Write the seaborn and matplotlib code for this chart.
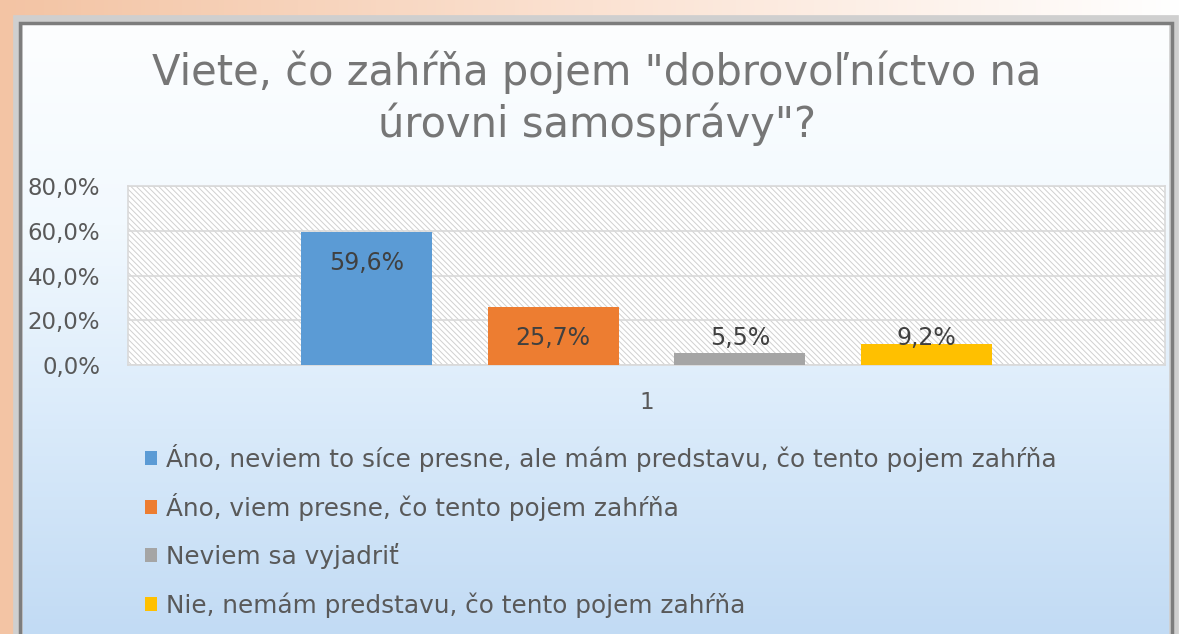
import numpy as np
import pandas as pd
import seaborn as sns
import matplotlib.pyplot as plt
from matplotlib.colors import LinearSegmentedColormap
from matplotlib.patches import Rectangle
from matplotlib.ticker import FuncFormatter

# data
title = 'Viete, čo zahŕňa pojem "dobrovoľníctvo na\núrovni samosprávy"?'
categories = [
    "Áno, neviem to síce presne, ale mám predstavu, čo tento pojem zahŕňa",
    "Áno, viem presne, čo tento pojem zahŕňa",
    "Neviem sa vyjadriť",
    "Nie, nemám predstavu, čo tento pojem zahŕňa",
]
values = [59.6, 25.7, 5.5, 9.2]
group = ["1", "1", "1", "1"]
colors = ["#5b9bd5", "#ed7d31", "#a5a5a5", "#ffc000"]
y_ticks = [0, 20, 40, 60, 80]

sns.set_theme(style="white")
plt.rcParams["font.family"] = ["DejaVu Sans"]
plt.rcParams["hatch.color"] = "#d0d0d0"
plt.rcParams["hatch.linewidth"] = 0.7

text_gray = "#595959"

fig = plt.figure(figsize=(11.86, 6.34), dpi=100)

# background: slide (peach -> white) and the chart area (white -> light blue)
bg = fig.add_axes([0, 0, 1, 1], zorder=-5)
bg.set_xlim(0, 1)
bg.set_ylim(0, 1)
bg.axis("off")
slide = LinearSegmentedColormap.from_list("slide", ["#f3c4a4", "#fbe2d2", "#ffffff"])
bg.imshow(np.linspace(0, 1, 256)[None, :], cmap=slide, extent=(0, 1, 0, 1),
          aspect="auto", interpolation="bicubic")
chart = LinearSegmentedColormap.from_list("chart", ["#c2dbf4", "#d9eafa", "#f2f9fe", "#fdfeff"])
x0, x1 = 18 / 1186, 1174 / 1186
y0, y1 = 0.0, 1 - 20 / 634
bg.imshow(np.linspace(0, 1, 256)[:, None], cmap=chart, origin="lower",
          extent=(x0, x1, y0, y1), aspect="auto", interpolation="bicubic")
bg.add_patch(Rectangle((x0, y0 - 0.02), x1 - x0, y1 - y0 + 0.02, fill=False,
                       edgecolor="#cfcfcf", lw=7))
bg.add_patch(Rectangle((x0 + 0.002, y0 - 0.02), x1 - x0 - 0.004, y1 - y0 + 0.016, fill=False,
                       edgecolor="#7d7d7d", lw=2.5))

fig.text(0.503, 0.845, title, ha="center", va="center", fontsize=30,
         color="#767676", linespacing=1.25)

df = pd.DataFrame({"skupina": group, "odpoved": categories, "podiel": values})

ax = fig.add_axes([128 / 1186, 1 - 365 / 634, (1165 - 128) / 1186, (365 - 186) / 634])
sns.barplot(data=df, x="skupina", y="podiel", hue="odpoved", hue_order=categories,
            palette=colors, width=0.72, gap=0.3, saturation=1, linewidth=0,
            ax=ax, zorder=3)

ax.set_ylim(0, 80)
ax.set_yticks(y_ticks)
ax.yaxis.set_major_formatter(FuncFormatter(lambda v, p: f"{v:.1f}%".replace(".", ",")))
ax.set_xlabel("")
ax.set_ylabel("")
ax.tick_params(axis="both", length=0, labelsize=16.5, colors=text_gray)
ax.tick_params(axis="x", pad=19)
ax.tick_params(axis="y", pad=20)

ax.patch.set_facecolor("white")
ax.patch.set_hatch("\\\\\\\\\\\\")
ax.patch.set_edgecolor("#d0d0d0")
ax.grid(axis="y", color="#d9d9d9", lw=1.2, zorder=1)
ax.set_axisbelow(True)
for s in ax.spines.values():
    s.set_color("#d9d9d9")
    s.set_linewidth(1.2)

# data labels: inside the top of tall bars, above short ones
for cont, v in zip(ax.containers, values):
    bar = cont.patches[0]
    xc = bar.get_x() + bar.get_width() / 2
    ax.text(xc, max(v - 13.8, 12), f"{v:.1f}%".replace(".", ","), ha="center",
            va="center", fontsize=17, color="#404040", zorder=5)

# legend: one entry per row so that the rows are evenly spaced
handles, labels = ax.get_legend_handles_labels()
ax.get_legend().remove()
for i, (h, lab) in enumerate(zip(handles, labels)):
    yrow = 1 - (458 + 49 * i) / 634
    h.set_edgecolor("none")
    fig.legend([h], [lab], loc="center left", bbox_to_anchor=(145 / 1186, yrow),
               frameon=False, fontsize=17.8, handlelength=0.48, handleheight=0.48,
               handletextpad=0.38, labelcolor=text_gray, borderpad=0, borderaxespad=0)

fig.savefig("out.png", dpi=100)
